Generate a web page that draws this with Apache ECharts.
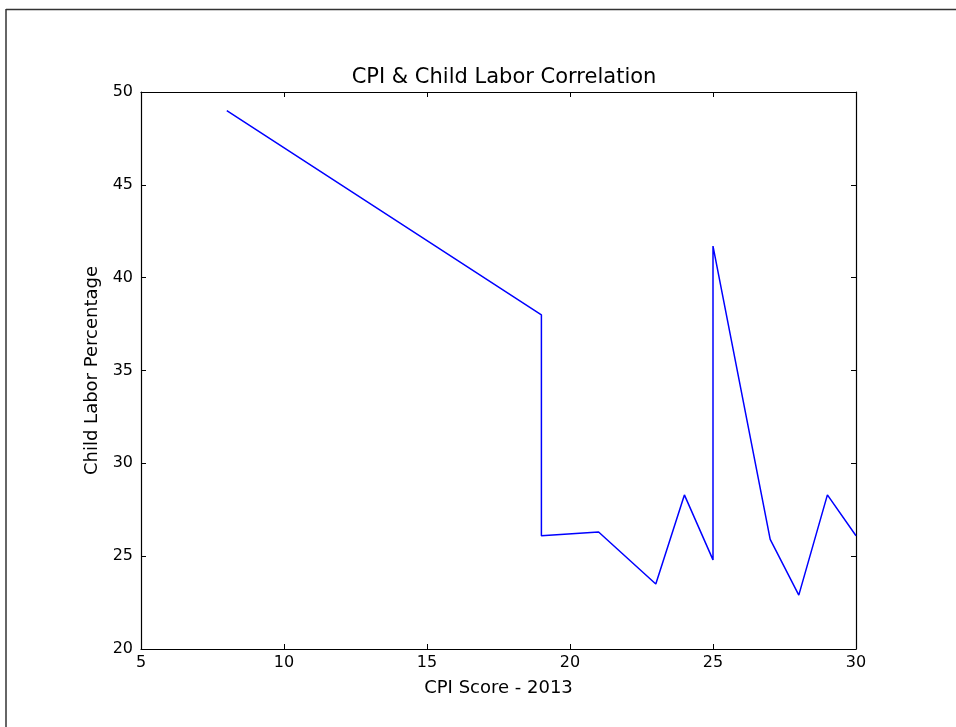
<!DOCTYPE html>
<html>
<head>
<meta charset="utf-8">
<title>CPI & Child Labor Correlation</title>
<script src="https://cdn.jsdelivr.net/npm/echarts@6/dist/echarts.min.js"></script>
<style>
  html, body { margin: 0; padding: 0; background: #fff; }
  #chart { width: 956px; height: 727px; }
</style>
</head>
<body>
<div id="chart"></div>
<script>
// values
const cpiScores = [8, 19, 19, 21, 23, 24, 25, 25, 27, 28, 29, 30];
const childLabor = [49, 38, 26.1, 26.3, 23.5, 28.3, 24.8, 41.7, 25.9, 22.9, 28.3, 26.1];

const xTicks = { min: 5, max: 30, interval: 5 };
const yTicks = { min: 20, max: 50, interval: 5 };

const font = 'DejaVu Sans';
const axisColor = '#000';

const points = cpiScores.map((x, i) => [x, childLabor[i]]);

// axes in matplotlib style: ticks pointing inward, box on all sides
function axis(ticks, extra) {
  return Object.assign({
    type: 'value',
    min: ticks.min,
    max: ticks.max,
    interval: ticks.interval,
    axisLine: { show: true, onZero: false, lineStyle: { color: axisColor, width: 1.2 } },
    axisTick: { show: true, inside: true, length: 5, lineStyle: { color: axisColor } },
    splitLine: { show: false },
    axisLabel: { color: '#000', fontFamily: font, fontSize: 16 }
  }, extra);
}

const chart = echarts.init(document.getElementById('chart'));
chart.setOption({
  backgroundColor: '#fff',
  animation: false,
  title: {
    text: 'CPI & Child Labor Correlation',
    left: 499,
    top: 62,
    textAlign: 'center',
    textStyle: { fontFamily: font, fontSize: 21, fontWeight: 'normal', color: '#000' }
  },
  grid: { left: 141, right: 100, top: 92, bottom: 78 },
  xAxis: [
    axis(xTicks, {
      position: 'bottom',
      name: 'CPI Score - 2013',
      nameLocation: 'middle',
      nameGap: 30,
      nameTextStyle: { fontFamily: font, fontSize: 18, color: '#000' },
      axisLabel: { color: '#000', fontFamily: font, fontSize: 16, margin: 6 }
    }),
    axis(xTicks, { position: 'top', axisLabel: { show: false } })
  ],
  yAxis: [
    axis(yTicks, {
      position: 'left',
      name: 'Child Labor Percentage',
      nameLocation: 'middle',
      nameGap: 30,
      nameTextStyle: { fontFamily: font, fontSize: 18, color: '#000' },
      axisLabel: { color: '#000', fontFamily: font, fontSize: 16, margin: 8 }
    }),
    axis(yTicks, { position: 'right', axisLabel: { show: false } })
  ],
  graphic: [
    { type: 'line', shape: { x1: 6, y1: 9.5, x2: 956, y2: 9.5 }, style: { stroke: '#333', lineWidth: 1.5 } },
    { type: 'line', shape: { x1: 6, y1: 9, x2: 6, y2: 727 }, style: { stroke: '#333', lineWidth: 1.5 } }
  ],
  series: [
    {
      type: 'line',
      xAxisIndex: 0,
      yAxisIndex: 0,
      data: points,
      showSymbol: false,
      lineStyle: { color: '#0000ff', width: 1.5 },
      itemStyle: { color: '#0000ff' }
    }
  ]
});
</script>
</body>
</html>
